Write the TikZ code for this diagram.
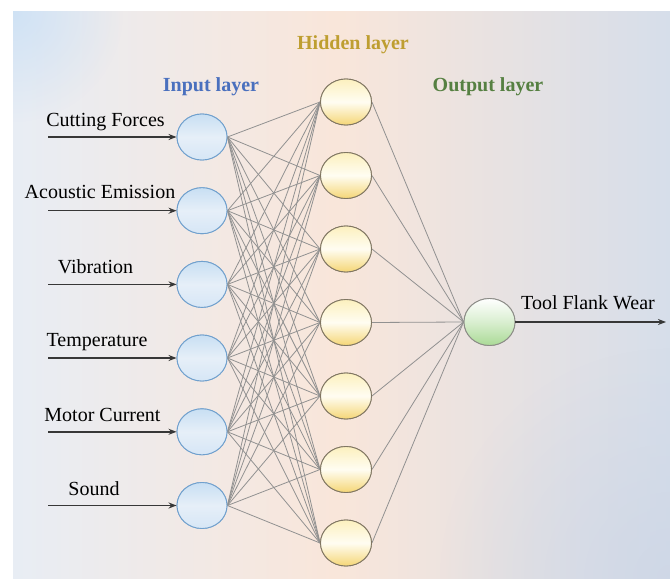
\documentclass[tikz,border=0pt]{standalone}
\usepackage{fontspec}
\setmainfont{Liberation Serif}
\usetikzlibrary{arrows.meta,shapes.geometric,fadings}

\definecolor{bgleft}{RGB}{232,237,244}
\definecolor{bgmid}{RGB}{249,230,218}
\definecolor{bgright}{RGB}{214,222,234}
\definecolor{bgblue}{RGB}{205,225,245}
\definecolor{bggrey}{RGB}{205,214,230}
\definecolor{inputblue}{RGB}{74,112,190}
\definecolor{hiddengold}{RGB}{190,158,48}
\definecolor{outputgreen}{RGB}{86,128,66}
\definecolor{inborder}{RGB}{112,160,205}
\definecolor{intop}{RGB}{200,223,243}
\definecolor{inmid}{RGB}{230,239,248}
\definecolor{inbot}{RGB}{214,230,246}
\definecolor{hidborder}{RGB}{128,118,98}
\definecolor{hidtop}{RGB}{252,240,190}
\definecolor{hidmid}{RGB}{255,253,242}
\definecolor{hidbot}{RGB}{245,214,118}
\definecolor{outborder}{RGB}{140,140,135}
\definecolor{outbot}{RGB}{170,218,150}
\definecolor{wire}{RGB}{145,145,145}
\definecolor{arrowgrey}{RGB}{55,55,55}

% soft radial glow used for the background tints
\tikzfading[name=softglow, inner color=transparent!0, outer color=transparent!100]

\tikzset{
  neuron/.style={ellipse, inner sep=0pt, line width=0.9pt},
  innode/.style={neuron, minimum width=50pt, minimum height=46pt, draw=inborder,
    top color=intop, bottom color=inbot, middle color=inmid},
  hidnode/.style={neuron, minimum width=51pt, minimum height=46pt, draw=hidborder,
    top color=hidtop, bottom color=hidbot, middle color=hidmid},
  outnode/.style={neuron, minimum width=51pt, minimum height=47pt, draw=outborder,
    top color=white, bottom color=outbot, middle color=white!55!outbot},
  wirestyle/.style={draw=wire, line width=0.8pt},
  signal/.style={draw=arrowgrey, line width=1.5pt, -{Stealth[length=8pt,width=6pt]}},
  signaltext/.style={font=\fontsize{20}{24}\selectfont, inner sep=0pt, text=black},
  layertitle/.style={font=\fontsize{20}{24}\selectfont\bfseries, inner sep=0pt}
}

\begin{document}
\begin{tikzpicture}[x=1pt,y=-1pt]
\useasboundingbox (0,0) rectangle (670,580);

% background panel
\shade[left color=bgleft, right color=bgmid] (13,12) rectangle (335,578);
\shade[left color=bgmid, right color=bgright] (335,12) rectangle (670,578);
\begin{scope}
  \clip (13,12) rectangle (670,578);
  \fill[bgblue, path fading=softglow, opacity=0.9] (13,12) circle (110);
  \fill[bggrey, path fading=softglow, opacity=0.8] (670,578) circle (230);
\end{scope}

% layer titles
\node[layertitle, text=inputblue]   (tin)  at (211,87) {Input layer};
\node[layertitle, text=hiddengold]  (thid) at (353,45) {Hidden layer};
\node[layertitle, text=outputgreen] (tout) at (488,87) {Output layer};

% input layer
\node[innode] (i1) at (202,137)   {};
\node[innode] (i2) at (202,210.7) {};
\node[innode] (i3) at (202,284.4) {};
\node[innode] (i4) at (202,358)   {};
\node[innode] (i5) at (202,431.8) {};
\node[innode] (i6) at (202,505.5) {};

% hidden layer
\node[hidnode] (h1) at (346,102)   {};
\node[hidnode] (h2) at (346,175.5) {};
\node[hidnode] (h3) at (346,249)   {};
\node[hidnode] (h4) at (346,322.5) {};
\node[hidnode] (h5) at (346,396)   {};
\node[hidnode] (h6) at (346,469.5) {};
\node[hidnode] (h7) at (346,543)   {};

% output layer
\node[outnode] (o1) at (489.5,322) {};

% fully connected weights
\foreach \a in {1,...,6}
  \foreach \b in {1,...,7}
    \draw[wirestyle] (i\a.east) -- (h\b.west);
\foreach \b in {1,...,7}
  \draw[wirestyle] (h\b.east) -- (o1.west);

% neurons drawn again on top of the wires
\foreach \k in {1,...,6}
  \node[innode] at (i\k) {};
\foreach \k in {1,...,7}
  \node[hidnode] at (h\k) {};
\node[outnode] at (o1) {};

% input signals
\coordinate (s1) at (48,137);
\coordinate (s2) at (48,210.7);
\coordinate (s3) at (48,284.4);
\coordinate (s4) at (48,358);
\coordinate (s5) at (48,431.8);
\coordinate (s6) at (48,505.5);
\foreach \k in {1,...,6}
  \draw[signal] (s\k) -- (i\k.west);

\node[signaltext] (l1) at (105.5,122) {Cutting Forces};
\node[signaltext] (l2) at (100,192)   {Acoustic Emission};
\node[signaltext] (l3) at (95.5,267)  {Vibration};
\node[signaltext] (l4) at (97,342)    {Temperature};
\node[signaltext] (l5) at (102.5,415) {Motor Current};
\node[signaltext] (l6) at (94,489)    {Sound};

% output signal
\coordinate (e1) at (666,322);
\draw[signal] (o1.east) -- (e1);
\node[signaltext] (lo) at (588,303) {Tool Flank Wear};
\end{tikzpicture}
\end{document}
